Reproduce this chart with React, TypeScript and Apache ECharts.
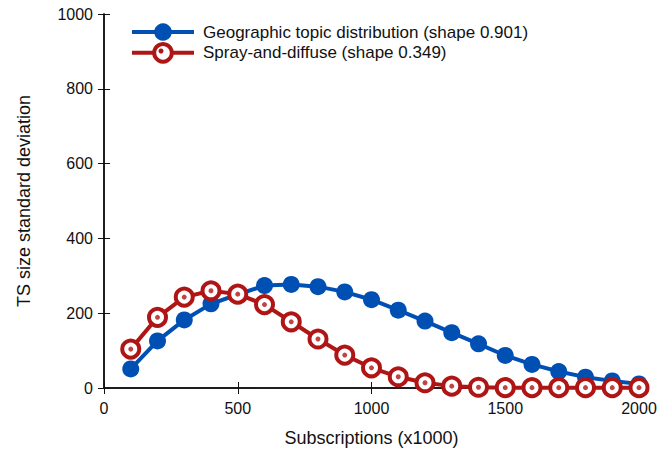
import React, { useEffect, useRef } from "react";
import * as echarts from "echarts";

const subscriptions = [100, 200, 300, 400, 500, 600, 700, 800, 900, 1000, 1100, 1200, 1300, 1400, 1500, 1600, 1700, 1800, 1900, 2000];
const geographic = [51, 126, 182, 225, 250, 274, 277, 271, 257, 236, 208, 179, 148, 118, 87, 63, 44, 29, 19, 11];
const spray = [104, 189, 243, 260, 251, 223, 177, 131, 88, 54, 30, 14, 5, 2, 1, 1, 1, 1, 1, 1];
const xTicks = { min: 0, max: 2000, interval: 500 };
const yTicks = { min: 0, max: 1000, interval: 200 };
const seriesNames = ["Geographic topic distribution (shape 0.901)", "Spray-and-diffuse (shape 0.349)"];

const BLUE = "#0050b4";
const RED = "#b01515";
const FONT = "Liberation Sans";

export default function App() {
  const ref = useRef<HTMLDivElement>(null);
  useEffect(() => {
    if (!ref.current) return;
    const chart = echarts.init(ref.current, undefined, { renderer: "svg" });
    const blueData = subscriptions.map((x, i) => [x, geographic[i]]);
    const redData = subscriptions.map((x, i) => [x, spray[i]]);
    const axisLine = { show: true, lineStyle: { color: "#111", width: 1.5 } };
    const tick = { show: true, inside: true, length: 6, lineStyle: { color: "#111", width: 1 } };
    const plain = (v: number) => String(v);
    chart.setOption({
      animation: false,
      backgroundColor: "#fff",
      textStyle: { fontFamily: FONT },
      grid: { left: 104, right: 33, top: 14, bottom: 67, containLabel: false },
      legend: {
        data: [
          { name: seriesNames[0], lineStyle: { width: 4, color: BLUE }, itemStyle: { color: BLUE } },
          { name: seriesNames[1], lineStyle: { width: 4, color: RED }, itemStyle: { color: "#fff", borderColor: RED, borderWidth: 4 } },
        ],
        orient: "vertical",
        left: 125,
        top: 18,
        itemWidth: 62,
        itemHeight: 22,
        itemGap: 1,
        textStyle: { fontFamily: FONT, fontSize: 17, lineHeight: 18, color: "#111", padding: [0, 0, 0, 4] },
      },
      xAxis: [
        {
          type: "value",
          position: "bottom",
          ...xTicks,
          axisLine,
          axisTick: tick,
          splitLine: { show: false },
          axisLabel: { fontFamily: FONT, fontSize: 16, color: "#111", margin: 12, formatter: plain },
          name: "Subscriptions (x1000)",
          nameLocation: "middle",
          nameGap: 41,
          nameTextStyle: { fontFamily: FONT, fontSize: 18, color: "#111" },
        },
        {
          type: "value",
          position: "top",
          ...xTicks,
          axisLine,
          axisTick: tick,
          splitLine: { show: false },
          axisLabel: { show: false },
        },
      ],
      yAxis: [
        {
          type: "value",
          position: "left",
          ...yTicks,
          axisLine,
          axisTick: tick,
          splitLine: { show: false },
          axisLabel: { fontFamily: FONT, fontSize: 16, color: "#111", margin: 11, formatter: plain },
          name: "TS size standard deviation",
          nameLocation: "middle",
          nameGap: 71,
          nameTextStyle: { fontFamily: FONT, fontSize: 18, color: "#111" },
        },
        {
          type: "value",
          position: "right",
          ...yTicks,
          axisLine,
          axisTick: tick,
          splitLine: { show: false },
          axisLabel: { show: false },
        },
      ],
      series: [
        {
          name: seriesNames[0],
          type: "line",
          data: blueData,
          clip: false,
          symbol: "circle",
          symbolSize: 17,
          lineStyle: { color: BLUE, width: 4 },
          itemStyle: { color: BLUE },
          z: 3,
        },
        {
          name: seriesNames[1],
          type: "line",
          data: redData,
          clip: false,
          symbol: "circle",
          symbolSize: 17,
          lineStyle: { color: RED, width: 4 },
          itemStyle: { color: "#fff", borderColor: RED, borderWidth: 4 },
          z: 4,
        },
        {
          name: "spray-dots",
          type: "scatter",
          data: redData,
          clip: false,
          symbol: "circle",
          symbolSize: 5,
          itemStyle: { color: RED },
          z: 5,
        },
      ],
      graphic: [
        { type: "circle", left: 158.5, top: 48.5, shape: { r: 2.5 }, style: { fill: RED }, z: 100 },
      ],
    });
    return () => chart.dispose();
  }, []);
  return <div ref={ref} style={{ width: 672, height: 455, position: "absolute", left: 0, top: 0 }} />;
}
